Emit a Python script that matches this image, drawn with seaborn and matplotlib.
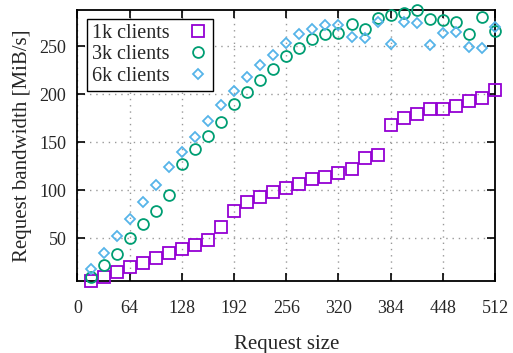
import matplotlib
matplotlib.use("Agg")
import matplotlib.pyplot as plt
import seaborn as sns
import pandas as pd
import numpy as np

request_size = [16, 32, 48, 64, 80, 96, 112, 128, 144, 160, 176, 192, 208, 224, 240, 256,
                272, 288, 304, 320, 336, 352, 368, 384, 400, 416, 432, 448, 464, 480, 496, 512]
bw_1k = [5, 10, 15, 20, 24.5, 29, 34.4, 39, 43.4, 48.2, 62, 78.4, 88.3, 93.3, 98.5, 102.7,
         107, 111.4, 113.5, 118, 122, 133.3, 137, 168.2, 175.2, 179.2, 184.4, 185, 188, 193.3, 196.5, 204.5]
bw_3k = [10, 22, 33.5, 50, 65, 78.5, 95, 127.4, 142.7, 156.6, 171, 190, 202.5, 214.5, 226, 240.3,
         248, 257.3, 262.8, 264.2, 273.2, 267.7, 279.2, 282.6, 285, 287.8, 278.1, 277.4, 275.6, 262.8, 280.8, 266.2]
bw_6k = [17.7, 34.4, 52.4, 70.6, 87.5, 105.8, 124, 140, 155.8, 172.5, 188.5, 203, 217.7, 230.2, 241, 253.2,
         262.8, 268.4, 272.6, 272.6, 259.4, 258.7, 275.6, 252.4, 275.6, 273.9, 251, 264.2, 264.9, 248.9, 247.9, 270.5]
series_names = ["1k clients", "3k clients", "6k clients"]
x_ticks = [0, 64, 128, 192, 256, 320, 384, 448, 512]
y_ticks = [50, 100, 150, 200, 250]

df = pd.concat([
    pd.DataFrame({"size": request_size, "bw": v, "series": n})
    for n, v in zip(series_names, [bw_1k, bw_3k, bw_6k])
])

sns.set_theme(style="white")
plt.rcParams["font.family"] = ["Liberation Serif", "DejaVu Serif"]
plt.rcParams["font.size"] = 12

fig = plt.figure(figsize=(5.13, 3.53), dpi=100)
ax = fig.add_axes([0.151, 0.204, 0.814, 0.768])

colors = ["#9400D3", "#009E73", "#56B4E9"]
markers = ["s", "o", "D"]
msizes = [8.2, 7.8, 5.6]
for name, c, m, ms in zip(series_names, colors, markers, msizes):
    sub = df[df["series"] == name]
    sns.lineplot(data=sub, x="size", y="bw", ax=ax, linestyle="", marker=m,
                 markersize=ms, markerfacecolor="none", markeredgecolor=c,
                 markeredgewidth=1.3, color=c, label=name, clip_on=False, zorder=3)

ax.set_xlim(0, 512)
ax.set_ylim(5.5, 288)
ax.set_xticks(x_ticks)
ax.set_yticks(y_ticks)
ax.set_xticklabels([str(t) for t in x_ticks])
ax.set_yticklabels([str(t) for t in y_ticks])
ax.set_xlabel("Request size", fontsize=15, labelpad=13)
ax.set_ylabel("Request bandwidth [MiB/s]", fontsize=15, labelpad=5)
ax.grid(True, color="#999999", linestyle=(0, (1, 3.5)), linewidth=1.0)
ax.tick_params(direction="in", length=6, width=1.2, color="black",
               top=True, right=True, bottom=True, left=True, labelsize=13)
ax.tick_params(axis="x", pad=14)
ax.tick_params(axis="y", pad=8)
for s in ax.spines.values():
    s.set_color("black")
    s.set_linewidth(1.3)

leg = ax.legend(loc="upper left", bbox_to_anchor=(0.023, 0.967), borderaxespad=0,
                markerfirst=False, fancybox=False, framealpha=1, edgecolor="black",
                fontsize=14.5, handlelength=1.0, handletextpad=0.9, labelspacing=0.12,
                borderpad=0.25)
leg.get_frame().set_linewidth(1.0)

fig.savefig("out.png", dpi=100)
